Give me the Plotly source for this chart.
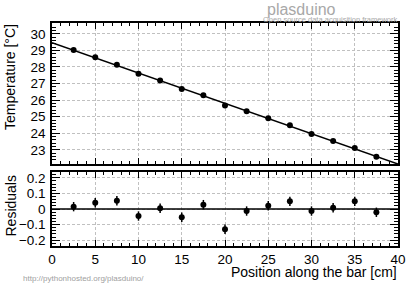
import plotly.graph_objects as go

# ---- data ----
positions = [2.5, 5, 7.5, 10, 12.5, 15, 17.5, 20, 22.5, 25, 27.5, 30, 32.5, 35, 37.5]
temperatures = [29.02, 28.59, 28.14, 27.59, 27.18, 26.67, 26.29, 25.67, 25.33,
                24.91, 24.48, 23.96, 23.53, 23.11, 22.58]
residuals = [0.015, 0.040, 0.053, -0.045, 0.005, -0.053, 0.028, -0.130, -0.013,
             0.021, 0.049, -0.013, 0.008, 0.049, -0.021]
errors = [0.03] * 15
fit_intercept = 29.46
fit_slope = -0.1828
x_range = [0, 40]

FONT = "Liberation Sans, Arial, Helvetica, sans-serif"
W, H = 415, 284

def px_x(p):
    return p / W

def px_y(p):
    return 1 - p / H

fig = go.Figure()

# fit line
fit_x = x_range
fit_y = [fit_intercept + fit_slope * v for v in fit_x]
fig.add_trace(go.Scatter(x=fit_x, y=fit_y, mode="lines",
                         line=dict(color="black", width=1.5),
                         xaxis="x", yaxis="y", showlegend=False))
fig.add_trace(go.Scatter(x=positions, y=temperatures, mode="markers",
                         marker=dict(color="black", size=6),
                         error_y=dict(type="data", array=errors, color="black",
                                      thickness=1.5, width=0),
                         xaxis="x", yaxis="y", showlegend=False))
# residuals
fig.add_trace(go.Scatter(x=x_range, y=[0, 0], mode="lines",
                         line=dict(color="black", width=1.5),
                         xaxis="x2", yaxis="y2", showlegend=False))
fig.add_trace(go.Scatter(x=positions, y=residuals, mode="markers",
                         marker=dict(color="black", size=6),
                         error_y=dict(type="data", array=errors, color="black",
                                      thickness=1.5, width=0),
                         xaxis="x2", yaxis="y2", showlegend=False))

common_axis = dict(showline=True, linecolor="black", linewidth=1.5, mirror="allticks",
                   ticks="inside", tickcolor="black", tickwidth=1,
                   showgrid=True, gridcolor="#c0c0c0", griddash="3px,2px", gridwidth=1,
                   zeroline=False, automargin=False,
                   tickfont=dict(family=FONT, size=13.5, color="black"))

xdom = [px_x(52), px_x(398)]

fig.update_layout(
    width=W, height=H,
    margin=dict(l=0, r=0, t=0, b=0),
    paper_bgcolor="white", plot_bgcolor="white",
    xaxis=dict(common_axis, domain=xdom, range=x_range, dtick=5, tick0=0,
               ticklen=6, showticklabels=False, anchor="y",
               minor=dict(dtick=1, ticklen=3, ticks="inside", tickcolor="black", showgrid=False)),
    yaxis=dict(common_axis, domain=[px_y(164), px_y(23)], range=[22.15, 30.65], dtick=1, tick0=0,
               ticklen=8, anchor="x", ticklabelstandoff=2,
               minor=dict(dtick=0.2, ticklen=4, ticks="inside", tickcolor="black", showgrid=False)),
    xaxis2=dict(common_axis, domain=xdom, range=x_range, dtick=5, tick0=0,
                ticklen=6, anchor="y2", matches="x", ticklabelstandoff=0,
                minor=dict(dtick=1, ticklen=3, ticks="inside", tickcolor="black", showgrid=False)),
    yaxis2=dict(common_axis, domain=[px_y(246), px_y(172)], range=[-0.237, 0.237], dtick=0.1, tick0=0,
                ticklen=8, anchor="x2", ticklabelstandoff=2,
                minor=dict(dtick=0.02, ticklen=4, ticks="inside", tickcolor="black", showgrid=False)),
    annotations=[
        dict(text="Temperature [°C]", x=px_x(10), y=px_y(22), xref="paper", yref="paper",
             textangle=-90, xanchor="center", yanchor="top", showarrow=False,
             font=dict(family=FONT, size=14, color="black")),
        dict(text="Residuals", x=px_x(10), y=px_y(174), xref="paper", yref="paper",
             textangle=-90, xanchor="center", yanchor="top", showarrow=False,
             font=dict(family=FONT, size=14, color="black")),
        dict(text="Position along the bar [cm]", x=px_x(399), y=px_y(271.5), xref="paper", yref="paper",
             xanchor="right", yanchor="middle", showarrow=False,
             font=dict(family=FONT, size=14, color="black")),
        dict(text="plasduino", x=px_x(301), y=px_y(10), xref="paper", yref="paper",
             xanchor="center", yanchor="middle", showarrow=False,
             font=dict(family=FONT, size=16, color="#a8a8a8")),
        dict(text="Open source data acquisition framework", x=px_x(399), y=px_y(19), xref="paper", yref="paper",
             xanchor="right", yanchor="middle", showarrow=False,
             font=dict(family=FONT, size=7.5, color="#a8a8a8")),
        dict(text="http://pythonhosted.org/plasduino/", x=px_x(21), y=px_y(278), xref="paper", yref="paper",
             xanchor="left", yanchor="middle", showarrow=False,
             font=dict(family=FONT, size=8, color="#a0a0a0")),
    ],
)

fig.write_html("out.html", config={"displayModeBar": False},
               post_script="document.body.style.margin='0';document.body.style.padding='0';")
